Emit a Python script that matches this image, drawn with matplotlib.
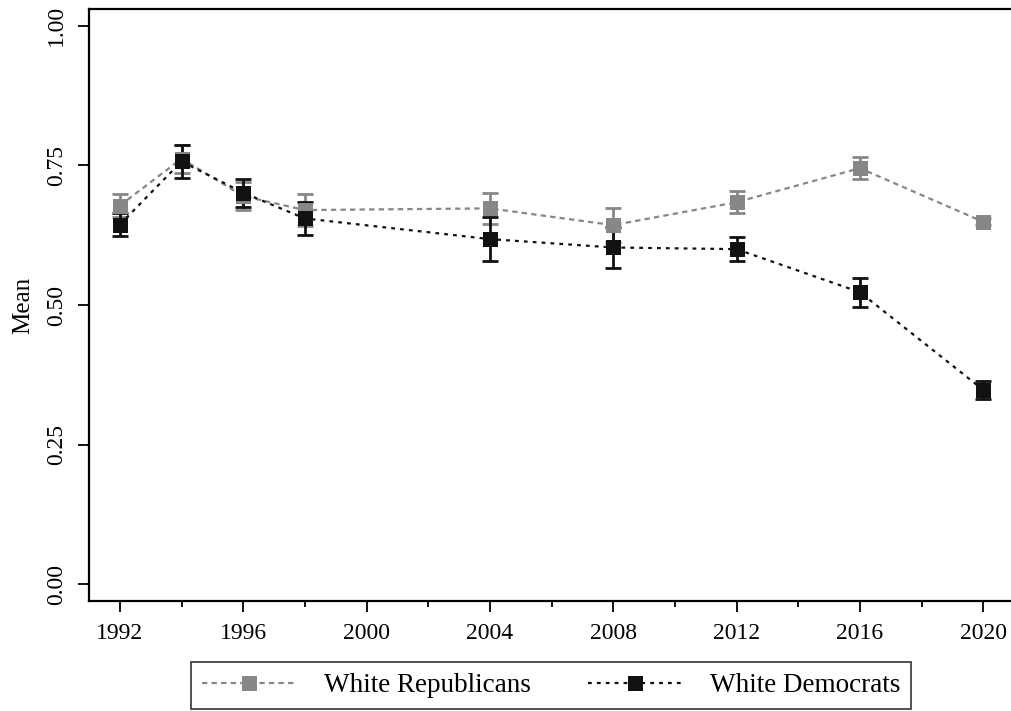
import matplotlib
matplotlib.use("Agg")
import matplotlib.pyplot as plt
from matplotlib.ticker import MultipleLocator

years = [1992, 1994, 1996, 1998, 2004, 2008, 2012, 2016, 2020]
rep_mean = [0.678, 0.762, 0.695, 0.670, 0.673, 0.643, 0.684, 0.745, 0.649]
rep_err = [0.021, 0.025, 0.025, 0.029, 0.028, 0.031, 0.020, 0.020, 0.006]
dem_mean = [0.644, 0.757, 0.701, 0.655, 0.618, 0.603, 0.600, 0.523, 0.348]
dem_err = [0.020, 0.029, 0.025, 0.029, 0.040, 0.037, 0.022, 0.026, 0.016]

x_ticks = [1992, 1996, 2000, 2004, 2008, 2012, 2016, 2020]
y_ticks = [0.00, 0.25, 0.50, 0.75, 1.00]
y_tick_labels = ["0.00", "0.25", "0.50", "0.75", "1.00"]

GRAY = "#878787"
BLACK = "#111111"

plt.rcParams["font.family"] = ["Liberation Serif", "DejaVu Serif"]

fig = plt.figure(figsize=(10.11, 7.11), dpi=100)
ax = fig.add_axes([89 / 1011, 110 / 711, (1014 - 89) / 1011, (601 - 9) / 711])

series = [
    ("White Republicans", rep_mean, rep_err, GRAY, (2.4, 1.9)),
    ("White Democrats", dem_mean, dem_err, BLACK, (1.7, 2.3)),
]

for label, mean, err, color, dash in series:
    ax.errorbar(years, mean, yerr=err, fmt="none", ecolor=color,
                elinewidth=2.0, capsize=5.6, capthick=2.0, zorder=2)
    ax.plot(years, mean, color=color, lw=1.6, dashes=dash, marker="s",
            markersize=10.8, markeredgewidth=0, markerfacecolor=color,
            label=label, zorder=3)

ax.set_xlim(1991, 2021)
ax.set_ylim(-0.03, 1.03)
ax.set_xticks(x_ticks)
ax.set_xticklabels([str(y) for y in x_ticks])
ax.xaxis.set_minor_locator(MultipleLocator(2))
ax.set_yticks(y_ticks)
ax.set_yticklabels(y_tick_labels, rotation=90, va="center")

ax.tick_params(axis="both", which="major", length=8, width=1.3,
               labelsize=17, pad=8, color="black")
ax.tick_params(axis="x", which="minor", length=4, width=1.3)
for side in ["left", "bottom", "top", "right"]:
    ax.spines[side].set_linewidth(1.6)

ax.set_ylabel("Mean", fontsize=18, labelpad=8)

leg = fig.legend(loc="center", bbox_to_anchor=(551 / 1011, 1 - 685.5 / 711),
                 ncol=2, frameon=True, fancybox=False, fontsize=19.5,
                 handlelength=3.5, handletextpad=1.0, columnspacing=2.1,
                 borderpad=0.4, borderaxespad=0, edgecolor="black")
leg.get_frame().set_linewidth(1.2)

fig.savefig("out.png", dpi=100)
